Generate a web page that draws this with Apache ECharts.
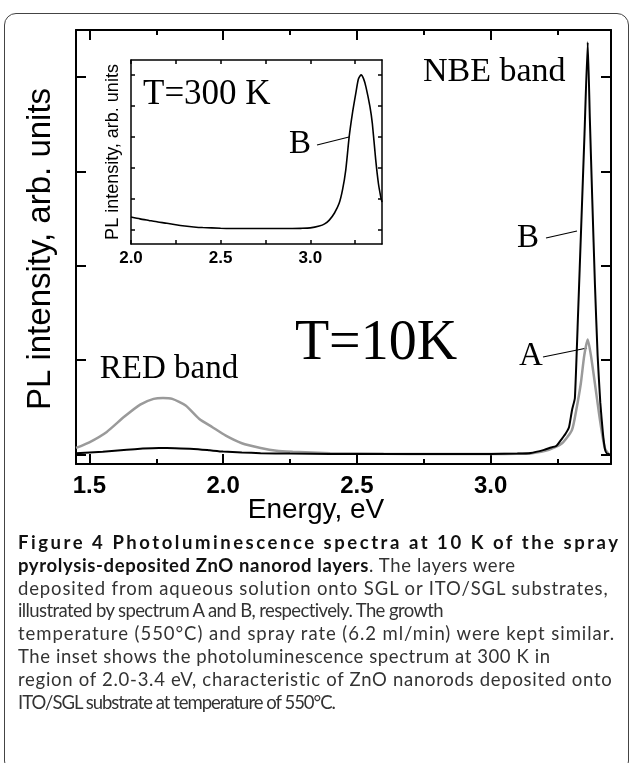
<!DOCTYPE html>
<html>
<head>
<meta charset="utf-8">
<script src="https://cdn.jsdelivr.net/npm/echarts@6/dist/echarts.min.js"></script>
<style>
  html, body { margin: 0; padding: 0; background: #fff; }
  #wrap { position: relative; width: 629px; height: 763px; overflow: hidden; }
  #frame { position: absolute; left: 4px; top: 13px; width: 625px; height: 760px;
           border: 1.5px solid #444; border-radius: 12px; box-sizing: border-box; }
  #chart { position: absolute; left: 0; top: 0; width: 629px; height: 763px; }
  #caption { position: absolute; left: 18px; top: 531px; width: 605px;
             font-family: Lato, "Open Sans", sans-serif; font-size: 18.5px;
             line-height: 22.8px; color: #333; }
  #caption div { white-space: nowrap; }
  #caption span.ln { display: inline-block; }
  #caption b { color: #111; }
</style>
</head>
<body>
<div id="wrap">
  <div id="frame"></div>
  <div id="chart"></div>
  <div id="caption">
    <div><span class="ln" data-w="600"><b>Figure 4 Photoluminescence spectra at 10 K of the spray</b></span></div>
    <div><span class="ln" data-w="497"><b>pyrolysis-deposited ZnO nanorod layers</b>. The layers were</span></div>
    <div><span class="ln" data-w="590">deposited from aqueous solution onto SGL or ITO/SGL substrates,</span></div>
    <div><span class="ln" data-w="426">illustrated by spectrum A and B, respectively. The growth</span></div>
    <div><span class="ln" data-w="596">temperature (550°C) and spray rate (6.2 ml/min) were kept similar.</span></div>
    <div><span class="ln" data-w="532">The inset shows the photoluminescence spectrum at 300 K in</span></div>
    <div><span class="ln" data-w="594">region of 2.0-3.4 eV, characteristic of ZnO nanorods deposited onto</span></div>
    <div><span class="ln" data-w="318">ITO/SGL substrate at temperature of 550°C.</span></div>
  </div>
</div>
<script>
// main plot, T = 10 K
const energyA = [1.45, 1.50, 1.565, 1.63, 1.69, 1.74, 1.775, 1.81, 1.86, 1.91, 1.96, 2.01, 2.07, 2.14, 2.20, 2.26,
  2.40, 2.60, 2.80, 3.00, 3.10, 3.15, 3.218, 3.267, 3.304, 3.32, 3.337, 3.35, 3.363, 3.375, 3.39, 3.405, 3.418, 3.428, 3.44];
const intensityA = [0.07, 0.13, 0.24, 0.40, 0.53, 0.59, 0.60, 0.59, 0.52, 0.38, 0.29, 0.20, 0.12, 0.07, 0.04, 0.03,
  0.015, 0.008, 0.006, 0.006, 0.008, 0.012, 0.05, 0.12, 0.26, 0.47, 0.75, 1.05, 1.22, 1.05, 0.75, 0.44, 0.20, 0.06, 0.01];

const energyB = [1.45, 1.55, 1.64, 1.70, 1.76, 1.82, 1.89, 1.95, 2.00, 2.07, 2.14, 2.25, 2.40, 2.60, 2.80, 3.00, 3.10,
  3.15, 3.20, 3.22, 3.245, 3.267, 3.28, 3.293, 3.30, 3.305, 3.315, 3.327, 3.339, 3.351, 3.363, 3.371, 3.38, 3.39, 3.40,
  3.41, 3.42, 3.428, 3.435, 3.445];
const intensityB = [0.015, 0.03, 0.05, 0.063, 0.07, 0.068, 0.06, 0.045, 0.032, 0.022, 0.015, 0.01, 0.007, 0.005, 0.005,
  0.007, 0.01, 0.017, 0.05, 0.07, 0.09, 0.17, 0.22, 0.29, 0.40, 0.48, 0.60, 1.5, 2.45, 3.4, 4.37, 3.55, 2.7, 1.8, 1.05,
  0.55, 0.22, 0.05, 0.01, 0.005];

// inset, T = 300 K
const energyInset = [2.00, 2.05, 2.10, 2.15, 2.20, 2.25, 2.30, 2.35, 2.40, 2.50, 2.60, 2.70, 2.80, 2.90, 2.95, 3.00,
  3.05, 3.08, 3.106, 3.135, 3.161, 3.18, 3.198, 3.217, 3.235, 3.254, 3.268, 3.283, 3.297, 3.311, 3.333, 3.346, 3.365,
  3.38, 3.393, 3.40];
const intensityInset = [0.42, 0.36, 0.31, 0.26, 0.22, 0.17, 0.13, 0.10, 0.08, 0.06, 0.05, 0.05, 0.05, 0.05, 0.055, 0.07,
  0.13, 0.20, 0.32, 0.55, 0.86, 1.3, 1.94, 3.01, 3.76, 4.41, 4.86, 5.0, 4.88, 4.6, 3.97, 3.44, 2.26, 1.5, 1.07, 0.9];

// ticks
const mainMajorTicks = [1.5, 2.0, 2.5, 3.0];
const mainMinorTicks = [1.75, 2.25, 2.75, 3.25];
const mainYTicks = [0, 1, 2, 3, 4];
const insetXTicks = [2.0, 2.25, 2.5, 2.75, 3.0, 3.25];
const insetXLabels = [2.0, 2.5, 3.0];
const insetYTicks = [0, 1, 2, 3, 4, 5];

const pairs = (xs, ys) => xs.map((x, i) => [x, ys[i]]);

const SANS = 'Liberation Sans';

function xAx(grid, min, max, pos, opts) {
  return {
    gridIndex: grid, type: 'value', min: min, max: max, position: pos,
    axisLine: { show: opts.line, onZero: false, lineStyle: { color: '#000', width: opts.lw || 2 } },
    axisTick: { show: true, inside: true, length: opts.len, customValues: opts.ticks,
                lineStyle: { color: '#000', width: opts.lw || 2 } },
    axisLabel: opts.labels ? {
      show: true, customValues: opts.labels, formatter: (v) => v.toFixed(1),
      color: '#000', fontFamily: SANS, fontWeight: 'bold', fontSize: opts.fs, margin: opts.margin
    } : { show: false },
    splitLine: { show: false }
  };
}

function yAx(grid, min, max, pos, ticks, len, lw) {
  return {
    gridIndex: grid, type: 'value', min: min, max: max, position: pos,
    axisLine: { show: true, onZero: false, lineStyle: { color: '#000', width: lw } },
    axisTick: { show: true, inside: true, length: len, customValues: ticks, lineStyle: { color: '#000', width: lw } },
    axisLabel: { show: false },
    splitLine: { show: false }
  };
}

const chart = echarts.init(document.getElementById('chart'), null, { renderer: 'canvas' });

const option = {
  backgroundColor: 'transparent',
  animation: false,
  grid: [
    { left: 76, top: 30, width: 535, height: 434 },
    { left: 131, top: 60, width: 251, height: 184 }
  ],
  xAxis: [
    xAx(0, 1.45, 3.45, 'bottom', { line: true, len: 10, ticks: mainMajorTicks, labels: mainMajorTicks, fs: 24, margin: 10 }),
    xAx(0, 1.45, 3.45, 'bottom', { line: false, len: 5, ticks: mainMinorTicks }),
    xAx(0, 1.45, 3.45, 'top', { line: true, len: 10, ticks: mainMajorTicks }),
    xAx(0, 1.45, 3.45, 'top', { line: false, len: 5, ticks: mainMinorTicks }),
    xAx(1, 2.0, 3.4, 'bottom', { line: true, len: 4, lw: 1.5, ticks: insetXTicks, labels: insetXLabels, fs: 17, margin: 6 }),
    xAx(1, 2.0, 3.4, 'top', { line: true, len: 4, lw: 1.5, ticks: insetXTicks })
  ],
  yAxis: [
    yAx(0, -0.1, 4.5, 'left', mainYTicks, 10, 2),
    yAx(0, -0.1, 4.5, 'right', mainYTicks, 10, 2),
    yAx(1, -0.45, 5.48, 'left', insetYTicks, 4, 1.5),
    yAx(1, -0.45, 5.48, 'right', insetYTicks, 4, 1.5)
  ],
  series: [
    { name: 'A', type: 'line', xAxisIndex: 0, yAxisIndex: 0, data: pairs(energyA, intensityA),
      showSymbol: false, smooth: 0.2, lineStyle: { color: '#9a9a9a', width: 2.5 } },
    { name: 'B', type: 'line', xAxisIndex: 0, yAxisIndex: 0, data: pairs(energyB, intensityB),
      showSymbol: false, smooth: 0.15, lineStyle: { color: '#000', width: 2 } },
    { name: 'B 300 K', type: 'line', xAxisIndex: 4, yAxisIndex: 2, data: pairs(energyInset, intensityInset),
      showSymbol: false, smooth: 0.2, lineStyle: { color: '#000', width: 1.6 } }
  ],
  graphic: [
    // axis titles
    { type: 'text', x: 316, y: 510, style: { text: 'Energy, eV', font: '28px "Liberation Sans"', fill: '#000',
      align: 'center', verticalAlign: 'middle' } },
    { type: 'text', x: 41, y: 249, rotation: Math.PI / 2, style: { text: 'PL intensity, arb. units',
      font: '33px "Liberation Sans"', fill: '#000', align: 'center', verticalAlign: 'middle' } },
    { type: 'text', x: 113, y: 152, rotation: Math.PI / 2, style: { text: 'PL intensity, arb. units',
      font: '18px "Liberation Sans"', fill: '#000', align: 'center', verticalAlign: 'middle' } },
    // annotations
    { type: 'text', x: 423, y: 72, style: { text: 'NBE band', font: '34px "Liberation Serif"', fill: '#000',
      align: 'left', verticalAlign: 'middle' } },
    { type: 'text', x: 169, y: 369, style: { text: 'RED band', font: '33px "Liberation Serif"', fill: '#000',
      align: 'center', verticalAlign: 'middle' } },
    { type: 'text', x: 376, y: 344, style: { text: 'T=10K', font: '56px "Liberation Serif"', fill: '#000',
      align: 'center', verticalAlign: 'middle' } },
    { type: 'text', x: 528, y: 238, style: { text: 'B', font: '33px "Liberation Serif"', fill: '#000',
      align: 'center', verticalAlign: 'middle' } },
    { type: 'line', shape: { x1: 546, y1: 238, x2: 577, y2: 231 }, style: { stroke: '#000', lineWidth: 1.2 } },
    { type: 'text', x: 531, y: 356, style: { text: 'A', font: '33px "Liberation Serif"', fill: '#000',
      align: 'center', verticalAlign: 'middle' } },
    { type: 'line', shape: { x1: 543, y1: 357, x2: 587, y2: 348 }, style: { stroke: '#000', lineWidth: 1.2 } },
    { type: 'text', x: 143, y: 95, style: { text: 'T=300 K', font: '35px "Liberation Serif"', fill: '#000',
      align: 'left', verticalAlign: 'middle' } },
    { type: 'text', x: 300, y: 144, style: { text: 'B', font: '33px "Liberation Serif"', fill: '#000',
      align: 'center', verticalAlign: 'middle' } },
    { type: 'line', shape: { x1: 317, y1: 145, x2: 349, y2: 137 }, style: { stroke: '#000', lineWidth: 1.2 } }
  ]
};

chart.setOption(option);

// stretch or squeeze each caption line to the width it has in the figure
document.querySelectorAll('#caption span.ln').forEach((el) => {
  const target = parseFloat(el.dataset.w);
  const w = el.getBoundingClientRect().width;
  const n = el.textContent.length;
  el.style.letterSpacing = ((target - w) / (n - 1)).toFixed(3) + 'px';
});
</script>
</body>
</html>
